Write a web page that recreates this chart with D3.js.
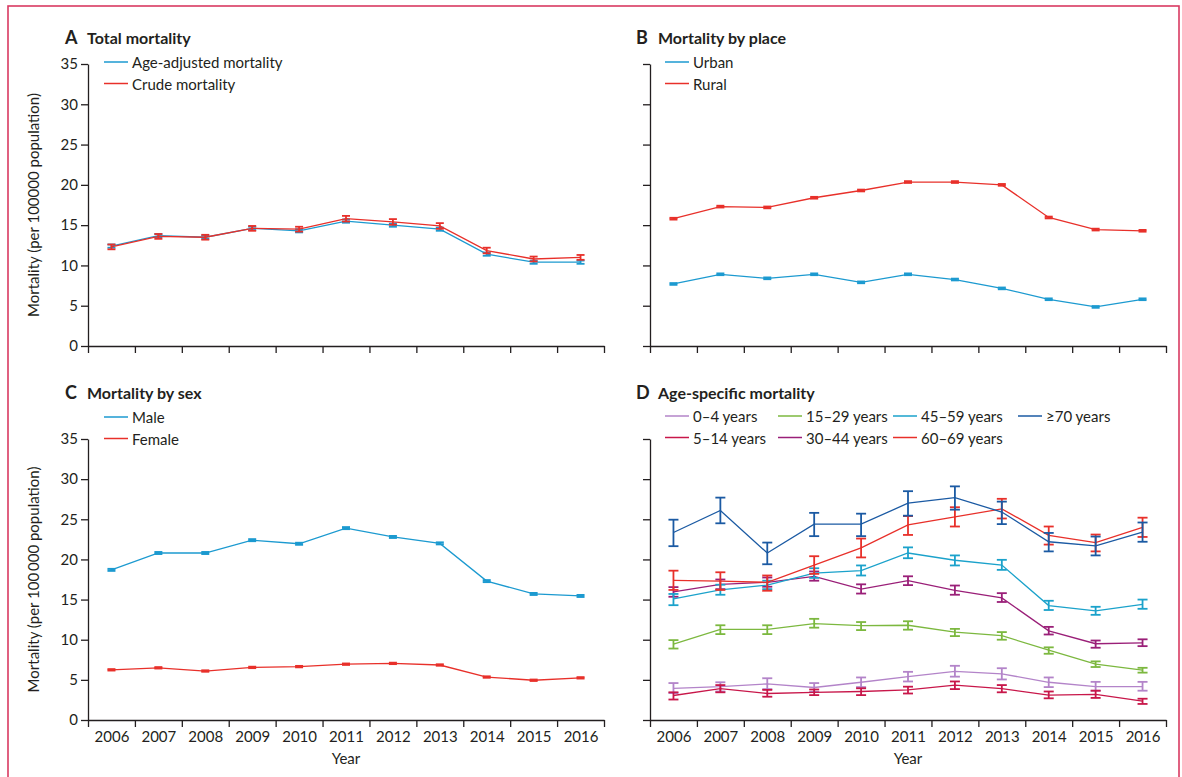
<!DOCTYPE html>
<html>
<head>
<meta charset="utf-8">
<script src="https://cdn.jsdelivr.net/npm/d3@7"></script>
<style>
  html, body { margin: 0; padding: 0; background: #fff; }
  svg { display: block; }
  text { font-family: Lato, "Open Sans", sans-serif; fill: #231f20; }
</style>
</head>
<body>
<svg id="chart" width="1182" height="777"></svg>
<script>
// ---- data ----------------------------------------------------------------
const years = [2006, 2007, 2008, 2009, 2010, 2011, 2012, 2013, 2014, 2015, 2016];
const yTicks = [0, 5, 10, 15, 20, 25, 30, 35];

// A: total mortality
const ageAdjusted     = [12.4, 13.7, 13.5, 14.6, 14.3, 15.5, 15.0, 14.5, 11.4, 10.4, 10.4];
const ageAdjustedLow  = [12.2, 13.5, 13.3, 14.4, 14.1, 15.3, 14.8, 14.3, 11.2, 10.2, 10.2];
const ageAdjustedHigh = [12.6, 13.9, 13.7, 14.8, 14.5, 15.7, 15.2, 14.7, 11.6, 10.6, 10.6];
const crude           = [12.3, 13.6, 13.5, 14.6, 14.5, 15.8, 15.4, 14.9, 11.85, 10.8, 11.0];
const crudeLow        = [12.0, 13.3, 13.2, 14.3, 14.2, 15.45, 15.05, 14.55, 11.5, 10.5, 10.7];
const crudeHigh       = [12.6, 13.9, 13.8, 14.9, 14.8, 16.15, 15.75, 15.25, 12.2, 11.1, 11.3];

// B: mortality by place
const urban     = [7.7, 8.9, 8.4, 8.9, 7.9, 8.9, 8.25, 7.15, 5.8, 4.85, 5.8];
const urbanLow  = [7.6, 8.8, 8.3, 8.8, 7.8, 8.8, 8.15, 7.05, 5.7, 4.75, 5.7];
const urbanHigh = [7.8, 9.0, 8.5, 9.0, 8.0, 9.0, 8.35, 7.25, 5.9, 4.95, 5.9];
const rural     = [15.8, 17.3, 17.2, 18.4, 19.3, 20.35, 20.35, 20.0, 15.95, 14.45, 14.3];
const ruralLow  = [15.7, 17.2, 17.1, 18.3, 19.2, 20.25, 20.25, 19.9, 15.85, 14.35, 14.2];
const ruralHigh = [15.9, 17.4, 17.3, 18.5, 19.4, 20.45, 20.45, 20.1, 16.05, 14.55, 14.4];

// C: mortality by sex
const male       = [18.7, 20.8, 20.8, 22.4, 21.95, 23.9, 22.8, 22.0, 17.3, 15.7, 15.45];
const maleLow    = [18.58, 20.68, 20.68, 22.28, 21.83, 23.78, 22.68, 21.88, 17.18, 15.58, 15.33];
const maleHigh   = [18.82, 20.92, 20.92, 22.52, 22.07, 24.02, 22.92, 22.12, 17.42, 15.82, 15.57];
const female     = [6.25, 6.5, 6.1, 6.55, 6.65, 6.95, 7.05, 6.85, 5.35, 4.95, 5.25];
const femaleLow  = [6.17, 6.42, 6.02, 6.47, 6.57, 6.87, 6.97, 6.77, 5.27, 4.87, 5.17];
const femaleHigh = [6.33, 6.58, 6.18, 6.63, 6.73, 7.03, 7.13, 6.93, 5.43, 5.03, 5.33];

// D: age-specific mortality
const age0to4      = [3.95, 4.15, 4.5, 4.05, 4.7, 5.4, 6.05, 5.75, 4.7, 4.15, 4.15];
const age0to4Low   = [3.35, 3.55, 3.85, 3.5, 4.1, 4.8, 5.4, 5.05, 4.1, 3.65, 3.65];
const age0to4High  = [4.6, 4.7, 5.2, 4.6, 5.3, 6.0, 6.75, 6.45, 5.3, 4.75, 4.75];
const age5to14     = [3.05, 3.9, 3.3, 3.45, 3.55, 3.75, 4.35, 3.9, 3.1, 3.2, 2.35];
const age5to14Low  = [2.55, 3.45, 2.9, 3.1, 3.1, 3.3, 3.85, 3.45, 2.7, 2.75, 2.0];
const age5to14High = [3.45, 4.35, 3.75, 3.8, 3.95, 4.15, 4.8, 4.35, 3.55, 3.65, 2.65];
const age15to29     = [9.45, 11.3, 11.3, 12.0, 11.75, 11.8, 10.95, 10.5, 8.7, 6.95, 6.2];
const age15to29Low  = [8.9, 10.7, 10.7, 11.5, 11.2, 11.25, 10.45, 10.0, 8.25, 6.6, 5.9];
const age15to29High = [9.95, 11.8, 11.8, 12.6, 12.2, 12.3, 11.35, 10.95, 9.05, 7.3, 6.5];
const age30to44     = [15.95, 16.9, 17.15, 17.9, 16.3, 17.35, 16.15, 15.2, 11.1, 9.5, 9.6];
const age30to44Low  = [15.35, 16.3, 16.6, 17.35, 15.75, 16.8, 15.6, 14.7, 10.65, 9.0, 9.2];
const age30to44High = [16.55, 17.5, 17.75, 18.5, 16.9, 17.9, 16.75, 15.8, 11.6, 9.9, 10.05];
const age45to59     = [15.1, 16.2, 16.8, 18.3, 18.6, 20.8, 19.9, 19.3, 14.25, 13.6, 14.4];
const age45to59Low  = [14.3, 15.6, 16.3, 17.7, 18.0, 20.15, 19.25, 18.7, 13.7, 13.1, 13.85];
const age45to59High = [15.7, 16.85, 17.35, 18.9, 19.25, 21.5, 20.5, 19.95, 14.85, 14.1, 15.0];
const age60to69     = [17.4, 17.3, 17.15, 19.3, 21.45, 24.3, 25.3, 26.3, 23.0, 22.1, 24.0];
const age60to69Low  = [16.2, 16.2, 16.1, 18.2, 20.25, 23.05, 24.1, 25.1, 21.85, 21.0, 22.8];
const age60to69High = [18.6, 18.4, 18.0, 20.4, 22.6, 25.4, 26.5, 27.55, 24.1, 23.1, 25.2];
const age70plus     = [23.35, 26.1, 20.8, 24.4, 24.4, 27.0, 27.7, 25.9, 22.2, 21.7, 23.4];
const age70plusLow  = [21.65, 24.5, 19.4, 22.9, 22.9, 25.45, 26.2, 24.4, 21.0, 20.5, 22.2];
const age70plusHigh = [24.95, 27.7, 22.1, 25.8, 25.7, 28.5, 29.1, 27.2, 23.3, 22.85, 24.6];

// ---- styling ---------------------------------------------------------------
const RED = "#e8302a";
const BLUE = "#1c9ad0";

const svg = d3.select("#chart");

// outer frame
svg.append("rect")
  .attr("x", 8).attr("y", 6).attr("width", 1171).attr("height", 800)
  .attr("fill", "none").attr("stroke", "#d93a62").attr("stroke-width", 1.6);

function makeSeries(name, color, v, lo, hi) {
  return { name, color, values: years.map((yr, i) => ({ yr, v: v[i], lo: lo[i], hi: hi[i] })) };
}

function drawPanel(p) {
  const x = d3.scaleLinear().domain([2005.5, 2016.5]).range([p.x0, p.x1]);
  const y = d3.scaleLinear().domain([0, 35]).range([p.yBottom, p.yTop]);
  const g = svg.append("g");

  // y axis
  const yAxis = d3.axisLeft(y).tickValues(yTicks).tickSize(7).tickSizeOuter(0).tickPadding(3);
  if (!p.yLabels) yAxis.tickFormat("");
  const ya = g.append("g").attr("transform", `translate(${p.x0},0)`).call(yAxis);
  ya.selectAll("text").style("font-size", "15px").attr("fill", "#231f20");

  // x axis: ticks on year boundaries, labels centred on years
  const xb = d3.range(2005.5, 2017, 1);
  const xAxis = d3.axisBottom(x).tickValues(xb).tickSize(7).tickSizeOuter(0).tickFormat("");
  g.append("g").attr("transform", `translate(0,${p.yBottom})`).call(xAxis);
  if (p.xLabels) {
    const xl = g.append("g").attr("transform", `translate(0,${p.yBottom})`)
      .call(d3.axisBottom(x).tickValues(years).tickSize(0).tickPadding(11).tickFormat(d3.format("d")));
    xl.select(".domain").remove();
    xl.selectAll("text").style("font-size", "15px").attr("fill", "#231f20");
    g.append("text")
      .attr("x", (p.x0 + p.x1) / 2).attr("y", p.yBottom + 44)
      .attr("text-anchor", "middle").style("font-size", "15px").text("Year");
  }
  g.selectAll(".domain, .tick line").attr("stroke", "#231f20").attr("stroke-width", 1.3);

  if (p.yTitle) {
    g.append("text")
      .attr("transform", `translate(33,${(p.yTop + p.yBottom) / 2}) rotate(-90)`)
      .attr("text-anchor", "middle").attr("dominant-baseline", "central")
      .style("font-size", "15px").text(p.yTitle);
  }

  // panel title
  g.append("text").attr("x", p.titleX).attr("y", p.titleY)
    .style("font-size", "18px").style("font-weight", "bold").text(p.letter);
  g.append("text").attr("x", p.titleX + 22).attr("y", p.titleY)
    .style("font-size", "16px").style("font-weight", "bold").text(p.title);

  // series
  const line = d3.line().x(d => x(d.yr)).y(d => y(d.v));
  p.series.forEach(s => {
    const sg = g.append("g");
    sg.append("path").datum(s.values).attr("d", line)
      .attr("fill", "none").attr("stroke", s.color).attr("stroke-width", 1.3);
    const eb = sg.selectAll("g.eb").data(s.values).join("g").attr("class", "eb")
      .attr("stroke", s.color).attr("stroke-width", p.barWidth);
    eb.append("line")
      .attr("x1", d => x(d.yr)).attr("x2", d => x(d.yr))
      .attr("y1", d => y(d.lo)).attr("y2", d => y(d.hi));
    eb.append("line")
      .attr("x1", d => x(d.yr) - p.cap / 2).attr("x2", d => x(d.yr) + p.cap / 2)
      .attr("y1", d => y(d.lo)).attr("y2", d => y(d.lo));
    eb.append("line")
      .attr("x1", d => x(d.yr) - p.cap / 2).attr("x2", d => x(d.yr) + p.cap / 2)
      .attr("y1", d => y(d.hi)).attr("y2", d => y(d.hi));
  });

  // legend
  p.legend.forEach(l => {
    const lg = g.append("g").attr("transform", `translate(${l.x},${l.y})`);
    lg.append("line").attr("x1", 0).attr("x2", 24).attr("y1", 0).attr("y2", 0)
      .attr("stroke", l.color).attr("stroke-width", 1.5);
    lg.append("text").attr("x", 28).attr("y", 0).attr("dominant-baseline", "central")
      .style("font-size", "15px").text(l.name);
  });
}

// A
const seriesA = [
  makeSeries("Age-adjusted mortality", BLUE, ageAdjusted, ageAdjustedLow, ageAdjustedHigh),
  makeSeries("Crude mortality", RED, crude, crudeLow, crudeHigh)
];
drawPanel({
  x0: 88, x1: 604, yTop: 64, yBottom: 346, yLabels: true, xLabels: false,
  yTitle: "Mortality (per 100000 population)",
  letter: "A", title: "Total mortality", titleX: 65, titleY: 44,
  series: seriesA, cap: 8, barWidth: 1.8,
  legend: seriesA.map((s, i) => ({ name: s.name, color: s.color, x: 104, y: 62 + i * 21.5 }))
});

// B
const seriesB = [
  makeSeries("Urban", BLUE, urban, urbanLow, urbanHigh),
  makeSeries("Rural", RED, rural, ruralLow, ruralHigh)
];
drawPanel({
  x0: 650, x1: 1166, yTop: 64, yBottom: 346, yLabels: false, xLabels: false,
  letter: "B", title: "Mortality by place", titleX: 636, titleY: 44,
  series: seriesB, cap: 8, barWidth: 2,
  legend: seriesB.map((s, i) => ({ name: s.name, color: s.color, x: 665, y: 62 + i * 21.5 }))
});

// C
const seriesC = [
  makeSeries("Male", BLUE, male, maleLow, maleHigh),
  makeSeries("Female", RED, female, femaleLow, femaleHigh)
];
drawPanel({
  x0: 88, x1: 604, yTop: 439, yBottom: 720, yLabels: true, xLabels: true,
  yTitle: "Mortality (per 100\u2009000 population)",
  letter: "C", title: "Mortality by sex", titleX: 65, titleY: 399,
  series: seriesC, cap: 8, barWidth: 2,
  legend: seriesC.map((s, i) => ({ name: s.name, color: s.color, x: 104, y: 417 + i * 21.5 }))
});

// D
const seriesD = [
  makeSeries("0\u20134 years", "#b384c9", age0to4, age0to4Low, age0to4High),
  makeSeries("5\u201314 years", "#c8174a", age5to14, age5to14Low, age5to14High),
  makeSeries("15\u201329 years", "#7cb83f", age15to29, age15to29Low, age15to29High),
  makeSeries("30\u201344 years", "#9a1f78", age30to44, age30to44Low, age30to44High),
  makeSeries("45\u201359 years", "#1ba2cb", age45to59, age45to59Low, age45to59High),
  makeSeries("60\u201369 years", RED, age60to69, age60to69Low, age60to69High),
  makeSeries("\u226570 years", "#1b5aa3", age70plus, age70plusLow, age70plusHigh)
];
const legendColsD = [665, 778, 893, 1018];
drawPanel({
  x0: 650, x1: 1166, yTop: 439, yBottom: 720, yLabels: false, xLabels: true,
  letter: "D", title: "Age-specific mortality", titleX: 636, titleY: 399,
  series: seriesD, cap: 10, barWidth: 1.8,
  legend: seriesD.map((s, i) => ({
    name: s.name, color: s.color,
    x: legendColsD[Math.floor(i / 2)], y: 416 + (i % 2) * 21.5
  }))
});
</script>
</body>
</html>
